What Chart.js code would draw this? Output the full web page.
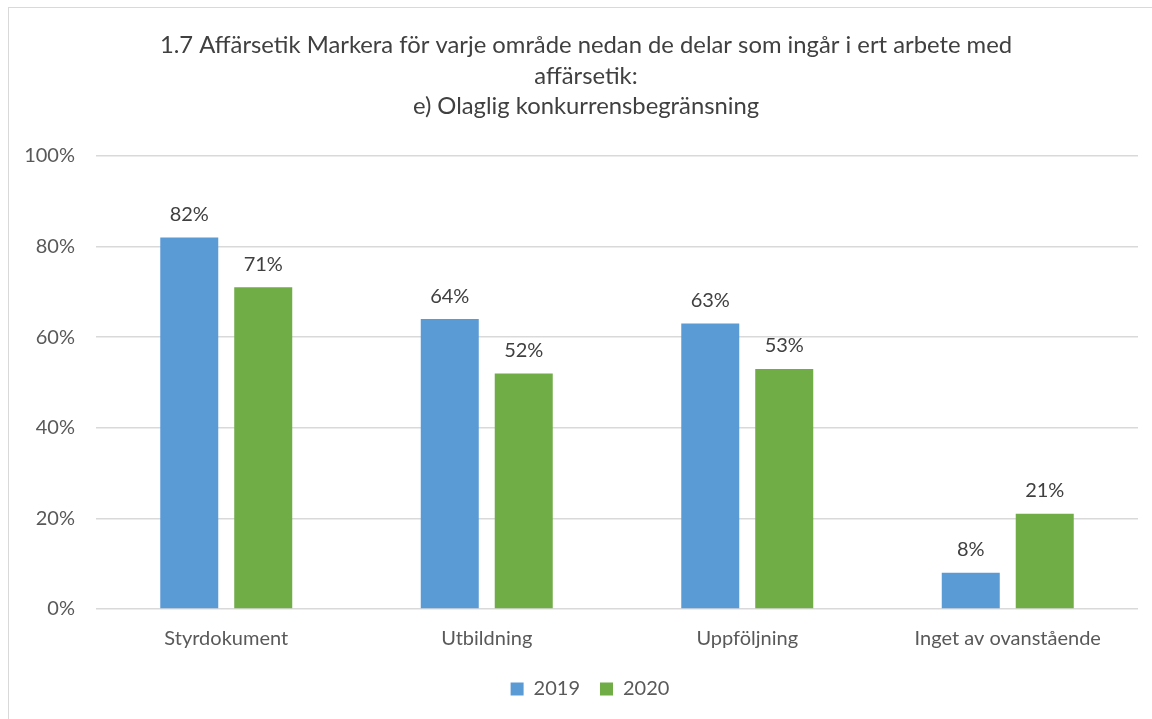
<!DOCTYPE html>
<html>
<head>
<meta charset="utf-8">
<script src="https://cdn.jsdelivr.net/npm/chart.js@4/dist/chart.umd.min.js"></script>
<style>
  html, body { margin: 0; padding: 0; background: #fff; }
  #wrap { position: relative; width: 1152px; height: 719px; overflow: hidden; }
  #frame { position: absolute; left: 8px; top: 7px; width: 1200px; height: 800px;
           border-left: 1px solid #d9d9d9; border-top: 1px solid #d9d9d9; }
  canvas { position: absolute; left: 0; top: 0; }
</style>
</head>
<body>
<div id="wrap">
  <div id="frame"></div>
  <canvas id="chartCanvas" width="1152" height="719"></canvas>
</div>
<script>
const categories = ['Styrdokument', 'Utbildning', 'Uppföljning', 'Inget av ovanstående'];
const values2019 = [82, 64, 63, 8];
const values2020 = [71, 52, 53, 21];
const yTicks = [0, 20, 40, 60, 80, 100];
const titleLines = [
  '1.7 Affärsetik Markera för varje område nedan de delar som ingår i ert arbete med',
  'affärsetik:',
  'e) Olaglig konkurrensbegränsning'
];

const FONT = 'Lato, "Open Sans", sans-serif';

// data labels above each bar
const barLabels = {
  id: 'barLabels',
  afterDatasetsDraw(chart) {
    const { ctx } = chart;
    ctx.save();
    ctx.font = '20px ' + FONT;
    ctx.fillStyle = '#404040';
    ctx.textAlign = 'center';
    ctx.textBaseline = 'middle';
    chart.data.datasets.forEach((ds, i) => {
      chart.getDatasetMeta(i).data.forEach((bar, j) => {
        ctx.fillText(ds.data[j] + '%', bar.x, bar.y - 23);
      });
    });
    ctx.restore();
  }
};

// title drawn by hand so the chart area can be placed freely
const titleText = {
  id: 'titleText',
  afterDraw(chart) {
    const { ctx } = chart;
    ctx.save();
    ctx.font = '23.8px ' + FONT;
    ctx.fillStyle = '#404040';
    ctx.textAlign = 'center';
    ctx.textBaseline = 'middle';
    const ys = [45, 76, 106];
    titleLines.forEach((t, i) => ctx.fillText(t, 586, ys[i]));
    ctx.restore();
  }
};

// legend sits a bit right of the canvas centre in the original
const legendShift = {
  id: 'legendShift',
  afterLayout(chart) {
    if (chart.legend) chart.legend.left += 42;
  }
};

new Chart(document.getElementById('chartCanvas'), {
  type: 'bar',
  data: {
    labels: categories,
    datasets: [
      { label: '2019', data: values2019, backgroundColor: '#5b9bd5' },
      { label: '2020', data: values2020, backgroundColor: '#70ad47' }
    ]
  },
  options: {
    responsive: false,
    animation: false,
    layout: { padding: { top: 156, right: 14, bottom: 10, left: 0 } },
    datasets: { bar: { categoryPercentage: 0.568, barPercentage: 0.784 } },
    scales: {
      x: {
        afterFit(scale) { scale.height = 50; },
        grid: { display: false },
        border: { display: false },
        ticks: { color: '#595959', font: { size: 20, family: FONT }, padding: 10 }
      },
      y: {
        min: 0,
        max: 100,
        afterBuildTicks(scale) { scale.ticks = yTicks.map(v => ({ value: v })); },
        afterFit(scale) { scale.width = 96; },
        grid: { color: '#d9d9d9', lineWidth: 1.5, drawTicks: false },
        border: { display: false },
        ticks: {
          color: '#595959',
          font: { size: 20, family: FONT },
          padding: 21,
          callback: v => v + '%'
        }
      }
    },
    plugins: {
      title: { display: false },
      tooltip: { enabled: false },
      legend: {
        position: 'bottom',
        labels: {
          boxWidth: 13,
          boxHeight: 13,
          color: '#595959',
          font: { size: 20, family: FONT },
          padding: 20
        }
      }
    }
  },
  plugins: [barLabels, titleText, legendShift]
});
</script>
</body>
</html>
